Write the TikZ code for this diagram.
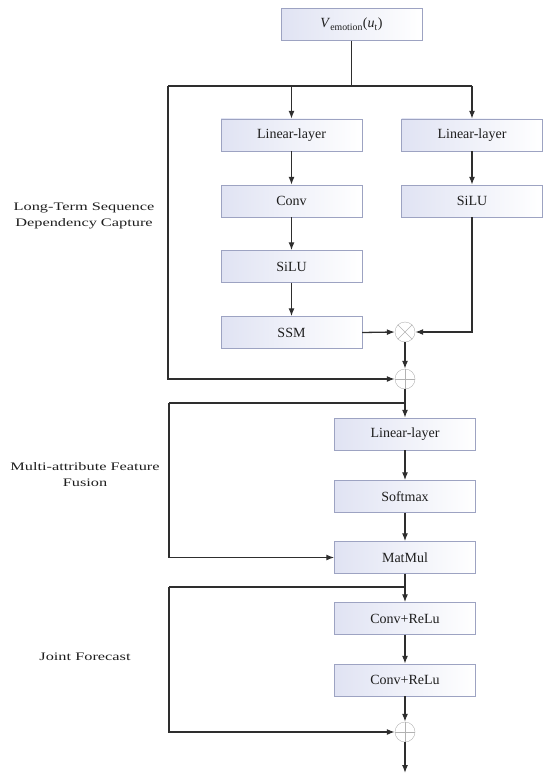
\documentclass[tikz,border=0pt]{standalone}
\usepackage{fontspec}
\usepackage{graphicx}
\setmainfont{Liberation Serif}
\usetikzlibrary{arrows.meta}
\definecolor{linegray}{HTML}{2E2E2E}
\definecolor{textgray}{HTML}{1E1E1E}
\definecolor{boxedge}{HTML}{9DA3C2}
\definecolor{boxfill}{HTML}{E0E3F3}
\newcommand{\widelabel}[1]{\scalebox{1.42}[1]{\fontsize{11.5}{16.5}\selectfont\begin{tabular}{@{}c@{}}#1\end{tabular}}}
\tikzset{
  layer/.style={draw=boxedge, left color=boxfill, right color=white, minimum width=141pt,
    minimum height=32pt, inner sep=0pt, font=\fontsize{14}{16}\selectfont, text=textgray},
  opnode/.style={circle, draw=gray!60, minimum size=20pt, inner sep=0pt},
  flow/.style={draw=linegray, line width=1.3pt, -{Latex[length=8pt,width=6pt]}},
  wire/.style={draw=linegray, line width=1.3pt},
  stage/.style={text=textgray, inner sep=0pt}
}
\begin{document}
\begin{tikzpicture}[x=1pt,y=-1pt]
			\useasboundingbox (0,0) rectangle (550,781);
			%Input
			\node[layer] (input) at (351.5,24.5) {\textit{V}\textsubscript{emotion}(\textit{u}\textsubscript{t})};
			%Long-term branch
			\node[layer] (lin1) at (291.5,135) {Linear-layer};
			\node[layer] (conv) at (291.5,201) {Conv};
			\node[layer] (silu1) at (291.5,266.5) {SiLU};
			\node[layer] (ssm) at (291.5,332.5) {SSM};
			\node[layer] (lin2) at (472,135) {Linear-layer};
			\node[layer] (silu2) at (472,201) {SiLU};
			\node[opnode] (mul) at (405,332) {};
			\node[opnode] (add1) at (405,379) {};
			\draw[gray!60, thin] (mul.45) -- (mul.225) (mul.135) -- (mul.315);
			\draw[gray!60, thin] (add1.north) -- (add1.south) (add1.west) -- (add1.east);
			%Fusion
			\node[layer] (lin3) at (405,434) {Linear-layer};
			\node[layer] (soft) at (405,496.5) {Softmax};
			\node[layer] (matmul) at (405,557.5) {MatMul};
			%Forecast
			\node[layer] (cr1) at (405,618.5) {Conv+ReLu};
			\node[layer] (cr2) at (405,680) {Conv+ReLu};
			\node[opnode] (add2) at (405,732) {};
			\draw[gray!60, thin] (add2.north) -- (add2.south) (add2.west) -- (add2.east);
			%Labels
			\node[stage] (lbl1) at (84,215) {\widelabel{Long-Term Sequence\\Dependency Capture}};
			\node[stage] (lbl2) at (85,475) {\widelabel{Multi-attribute Feature\\Fusion}};
			\node[stage] (lbl3) at (85,657) {\widelabel{Joint Forecast}};
			%Points
			\coordinate (split) at (351.5,86);
			\coordinate (railA) at (168,86);
			\coordinate (branchB) at (405,403);
			\coordinate (railB) at (169,403);
			\coordinate (branchC) at (405,587);
			\coordinate (railC) at (169,587);
			\coordinate (out) at (405,773);
			%Connections
			\draw[wire] (input.south) -- (split);
			\draw[wire] (railA) -- (lin2.north |- split);
			\draw[flow] (lin1.north |- split) -- (lin1.north);
			\draw[flow] (lin2.north |- split) -- (lin2.north);
			\draw[flow] (railA) |- (add1.west);
			\draw[flow] (lin1) -- (conv);
			\draw[flow] (conv) -- (silu1);
			\draw[flow] (silu1) -- (ssm);
			\draw[flow] (lin2) -- (silu2);
			\draw[flow] (silu2.south) |- (mul.east);
			\draw[flow] (ssm.east) -- (mul.west);
			\draw[flow] (mul.south) -- (add1.north);
			\draw[wire] (add1.south) -- (branchB) -- (railB);
			\draw[flow] (branchB) -- (lin3.north);
			\draw[flow] (railB) |- (matmul.west);
			\draw[flow] (lin3) -- (soft);
			\draw[flow] (soft) -- (matmul);
			\draw[wire] (matmul.south) -- (branchC) -- (railC);
			\draw[flow] (branchC) -- (cr1.north);
			\draw[flow] (railC) |- (add2.west);
			\draw[flow] (cr1) -- (cr2);
			\draw[flow] (cr2) -- (add2.north);
			\draw[flow] (add2.south) -- (out);
\end{tikzpicture}
\end{document}
